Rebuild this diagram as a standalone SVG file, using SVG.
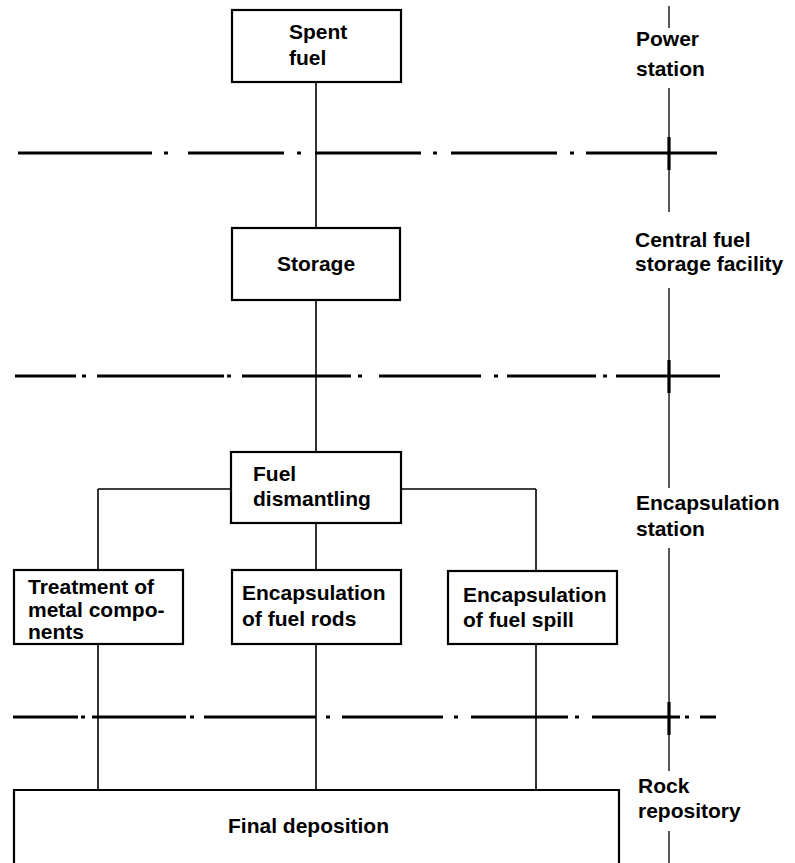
<svg xmlns="http://www.w3.org/2000/svg" width="795" height="863" viewBox="0 0 795 863">
<style>
text{font-family:"Liberation Sans",Arial,sans-serif;font-weight:bold;font-size:21px;fill:#000}
.box{fill:#fff;stroke:#000;stroke-width:2.2}
.ln{fill:none;stroke:#000;stroke-width:1.6}
.dd{fill:none;stroke:#000;stroke-width:3}
.rl{fill:none;stroke:#000;stroke-width:1.3}
.tk{fill:none;stroke:#000;stroke-width:3.2}
</style>
<rect width="795" height="863" fill="#fff"/>
<g id="connectors">
<path class="ln" d="M316 82V228M316 300V452M316 523V570M316 644V790M98 489H231M401 489H536M98 489V570M536 489V571M98 644V790M536 644V790"/>
</g>
<g id="boundaries">
<path class="dd" d="M18 153H152M164 153H168M188 153H284M297 153H301M315 153H421M433 153H437M451 153H557M570 153H574M586 153H717"/>
<path class="dd" d="M15 376H76M82 376H86M97 376H224M227 376H231M242 376H351M358 376H362M379 376H481M494 376H498M507 376H596M603 376H607M616 376H720"/>
<path class="dd" d="M13 717H78M81 717H85M92 717H186M190 717H194M204 717H316M326 717H330M342 717H443M454 717H458M471 717H568M575 717H579M592 717H680M685 717H689M700 717H716"/>
<path class="rl" d="M669 6V28M669 88V212M669 288V488M669 548V771M669 831V863"/>
<path class="tk" d="M669 137V170M669 360V393M669 702V735"/>
</g>
<g id="labels">
<text x="636" y="46">Power</text>
<text x="636" y="76">station</text>
<text x="635" y="247">Central fuel</text>
<text x="635" y="271">storage facility</text>
<text x="636" y="510">Encapsulation</text>
<text x="636" y="536">station</text>
<text x="638" y="793">Rock</text>
<text x="638" y="818">repository</text>
</g>
<g id="spent-fuel">
<rect class="box" x="232" y="10" width="169" height="72"/>
<text x="289" y="39">Spent</text>
<text x="289" y="65">fuel</text>
</g>
<g id="storage">
<rect class="box" x="232" y="228" width="168" height="72"/>
<text x="316" y="271" text-anchor="middle">Storage</text>
</g>
<g id="fuel-dismantling">
<rect class="box" x="231" y="452" width="170" height="71"/>
<text x="253" y="481">Fuel</text>
<text x="253" y="506">dismantling</text>
</g>
<g id="treatment">
<rect class="box" x="14" y="570" width="169" height="74"/>
<text x="28" y="594">Treatment of</text>
<text x="28" y="617">metal compo-</text>
<text x="28" y="639">nents</text>
</g>
<g id="encap-rods">
<rect class="box" x="232" y="570" width="169" height="74"/>
<text x="242" y="600">Encapsulation</text>
<text x="242" y="626">of fuel rods</text>
</g>
<g id="encap-spill">
<rect class="box" x="448" y="571" width="169" height="73"/>
<text x="463" y="602">Encapsulation</text>
<text x="463" y="627">of fuel spill</text>
</g>
<g id="final-deposition">
<path class="box" d="M14 875V790H619V875"/>
<text x="228" y="833">Final deposition</text>
</g>
</svg>
